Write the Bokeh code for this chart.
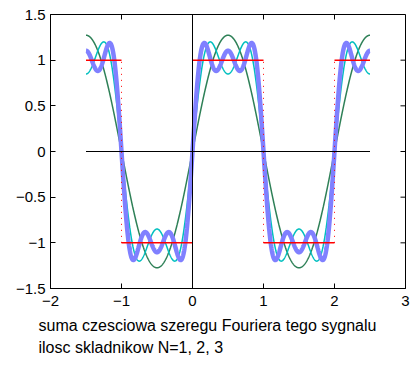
import numpy as np
from bokeh.plotting import figure
from bokeh.models import FixedTicker, Title, Range1d
from bokeh.embed import file_html
from bokeh.resources import INLINE

# ---- data ----
x_start, x_end = -1.5, 2.5            # signal shown over this interval
harmonics = [1, 3, 5]                 # odd harmonics of the square wave
amplitudes = [4 / np.pi, 4 / (3 * np.pi), 4 / (5 * np.pi)]  # Fourier coefficients b_k
n_terms = [1, 2, 3]                   # partial sums N=1,2,3
seg_x0 = [-1.5, -1.0, 0.0, 1.0, 2.0]  # square wave levels
seg_x1 = [-1.0, 0.0, 1.0, 2.0, 2.5]
seg_y = [1, -1, 1, -1, 1]
jumps = [-1, 0, 1, 2]                 # discontinuities
x_ticks = [-2, -1, 0, 1, 2, 3]
y_ticks = [-1.5, -1, -0.5, 0, 0.5, 1, 1.5]
captions = ["suma czesciowa szeregu Fouriera tego sygnalu", "ilosc skladnikow N=1, 2, 3"]

FONT = "Liberation Sans"
def lab(v):
    return ("%g" % v).replace("-", "\u2212")

X0, X1, Y0, Y1 = -2, 3, -1.5, 1.5
p = figure(width=410, height=362, output_backend="svg", toolbar_location=None,
           x_range=Range1d(X0, X1), y_range=Range1d(Y0, Y1),
           min_border_left=50, min_border_right=5, min_border_top=14, min_border_bottom=74)
p.grid.visible = False
p.outline_line_color = "black"
p.outline_line_width = 1

def style_axis(ax, ticks):
    ax.ticker = FixedTicker(ticks=ticks)
    ax.major_tick_in = 5
    ax.major_tick_out = 0
    ax.minor_tick_in = 0
    ax.minor_tick_out = 0
    ax.axis_line_color = "black"
    ax.major_tick_line_color = "black"
    ax.major_label_overrides = {t: lab(t) for t in ticks}
    ax.major_label_text_font = FONT
    ax.major_label_text_color = "black"
    ax.major_label_text_font_size = "15px"

style_axis(p.xaxis[0], x_ticks)
p.xaxis[0].major_label_standoff = 7
style_axis(p.yaxis[0], y_ticks)
p.yaxis[0].major_label_standoff = 5

# inward ticks on the top and right edges of the box (5 px long)
frame_w, frame_h = 410 - 50 - 5, 362 - 14 - 74
tx = 5 * (X1 - X0) / frame_w
ty = 5 * (Y1 - Y0) / frame_h
p.segment(x0=x_ticks, y0=[Y1] * len(x_ticks), x1=x_ticks, y1=[Y1 - ty] * len(x_ticks),
          line_color="black", line_width=1)
p.segment(x0=[X1] * len(y_ticks), y0=y_ticks, x1=[X1 - tx] * len(y_ticks), y1=y_ticks,
          line_color="black", line_width=1)

# partial Fourier sums
x = np.linspace(x_start, x_end, 1200)
colors = ["#2e8057", "#00bfbf", "#8080ff"]
widths = [1.5, 1.5, 4.5]
for n, c, w in zip(n_terms, colors, widths):
    y = np.zeros_like(x)
    for k, b in zip(harmonics[:n], amplitudes[:n]):
        y += b * np.sin(k * np.pi * x)
    p.line(x, y, line_color=c, line_width=w)

# square wave
for xa, xb, yv in zip(seg_x0, seg_x1, seg_y):
    p.line([xa, xb], [yv, yv], line_color="red", line_width=1.5)
for xj in jumps:
    p.line([xj, xj], [-1, 1], line_color="red", line_width=1, line_dash="1 5")

# axes lines
p.line([x_start, x_end], [0, 0], line_color="black", line_width=1)
p.line([0, 0], [Y0, Y1], line_color="black", line_width=1)

for txt, so in zip(captions, [12, -5]):
    t = Title(text=txt, align="left", text_font=FONT, text_font_size="16px",
              text_font_style="normal", text_color="black", offset=-12, standoff=so)
    p.add_layout(t, "below")

open("out.html", "w").write(file_html(p, INLINE))
